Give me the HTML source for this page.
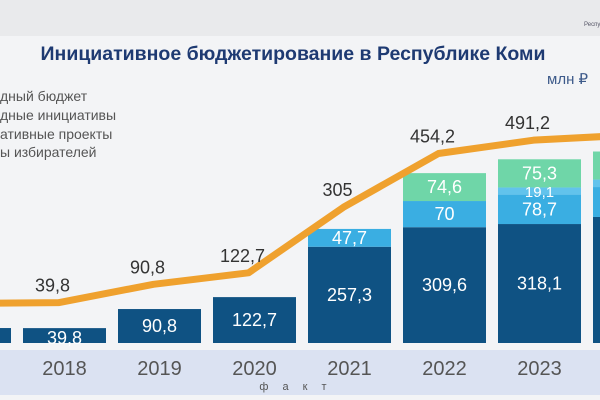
<!DOCTYPE html>
<html><head><meta charset="utf-8"><style>
body{margin:0;width:600px;height:400px;overflow:hidden;background:#f3f4f6;font-family:"Liberation Sans",sans-serif}
svg{display:block}
</style></head><body>
<svg id="c" width="600" height="400">
<rect x="0" y="0" width="600" height="400" fill="#f3f4f6"/>
<rect x="0" y="0" width="600" height="36" fill="#e9eaec"/>
<text x="584" y="26" font-size="6" fill="#556">Республика</text>
<text x="293" y="60" text-anchor="middle" font-size="19.5" font-weight="bold" fill="#1e3a72">Инициативное бюджетирование в Республике Коми</text>
<text x="547" y="84" font-size="15" fill="#3d5a8a">млн ₽</text>
<g font-size="14" fill="#555">
<text x="0" y="101">дный бюджет</text>
<text x="0" y="120">дные инициативы</text>
<text x="0" y="139">ативные проекты</text>
<text x="0" y="157">ы избирателей</text>
</g>
<rect x="0" y="350" width="600" height="45" fill="#dbe2f2"/>
<text x="300" y="390" text-anchor="middle" font-size="11" fill="#555" letter-spacing="14">факт</text>
<g id="bars"></g><g id="line"></g><g id="labels"></g>
</svg>
<script>
const years=["2017","2018","2019","2020","2021","2022","2023","2024"];
const budget=[40,39.8,90.8,122.7,257.3,309.6,318.1,337];
const initiatives=[0,0,0,0,47.7,70,78.7,80];
const projects=[0,0,0,0,0,0,19.1,20];
const voters=[0,0,0,0,0,74.6,75.3,75];
const totals=[38,39.8,90.8,122.7,305,454.2,491.2,505];
const showLabels=[false,true,true,true,true,true,true,false];
const NS="http://www.w3.org/2000/svg";
const xc=i=>-30.5+i*95;
const yb=v=>343-v*0.374;
const yl=v=>317-v*0.36;
function mk(t,a,p){const e=document.createElementNS(NS,t);for(const k in a)e.setAttribute(k,a[k]);p.appendChild(e);return e;}
const gB=document.getElementById('bars'),gL=document.getElementById('line'),gT=document.getElementById('labels');
const series=[[budget,"#0f5283","budget"],[initiatives,"#3aaee2","initiatives"],[projects,"#62c3ec","projects"],[voters,"#6fd6a8","voters"]];
years.forEach((y,i)=>{
  let base=0;
  series.forEach(([arr,col,nm])=>{
    const v=arr[i]; if(!v) return;
    const r=mk('rect',{x:xc(i)-41.5,y:yb(base+v),width:83,height:yb(base)-yb(base+v),fill:col},gB);
    
    
    if(showLabels[i]){
      const h=yb(base)-yb(base+v);
      const t=mk('text',{x:xc(i),y:(nm==='budget'&&h<20)?yb(base)+1:(yb(base+v)+yb(base))/2+6,'text-anchor':'middle','font-size':nm==='projects'?15:18,fill:'#fff'},gT);
      t.textContent=String(v).replace('.',',');
      
      
    }
    base+=v;
  });
  const yt=mk('text',{x:xc(i),y:375,'text-anchor':'middle','font-size':20,fill:'#555'},gT);
  yt.textContent=y;
  
  
});
const pts=totals.map((v,i)=>(xc(i)-6)+','+yl(v)).join(' ');
const pl=mk('polyline',{points:pts,fill:'none',stroke:'#efa12e','stroke-width':7,'stroke-linejoin':'round'},gL);


totals.forEach((v,i)=>{
  if(!showLabels[i])return;
  const t=mk('text',{x:xc(i)-12,y:yl(v)-11,'text-anchor':'middle','font-size':18,fill:'#333'},gT);
  t.textContent=String(v).replace('.',',');
  
  
});
</script>
</body></html>
